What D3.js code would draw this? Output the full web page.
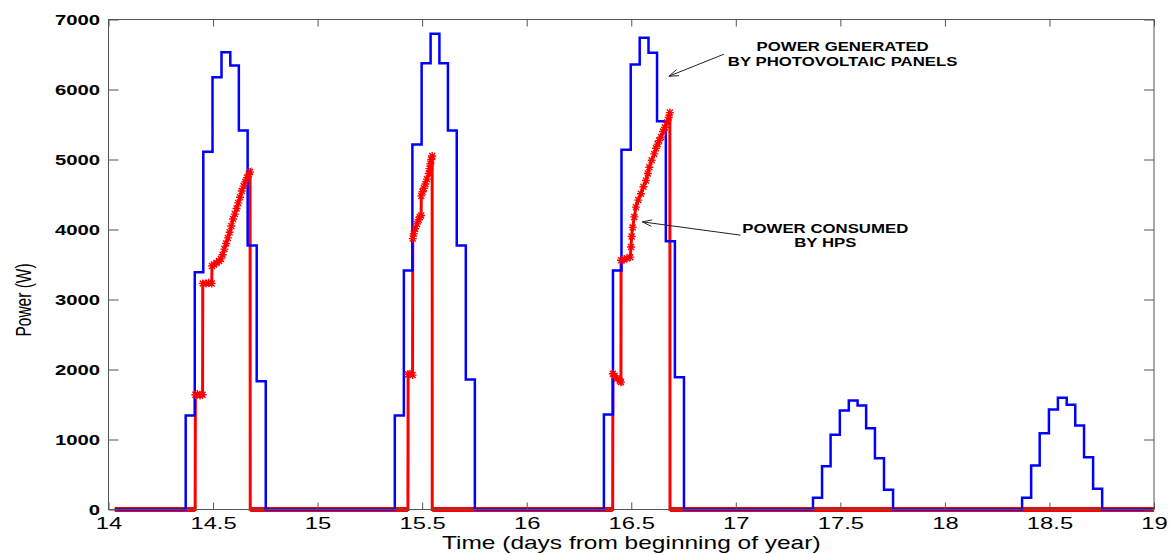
<!DOCTYPE html>
<html>
<head>
<meta charset="utf-8">
<script src="https://cdn.jsdelivr.net/npm/d3@7"></script>
<style>
  html, body { margin: 0; padding: 0; background: #fff; }
  svg { display: block; }
  text { font-family: "Liberation Sans", Arial, sans-serif; fill: #000; }
</style>
</head>
<body>
<svg id="chart" width="1173" height="554"></svg>
<script>
// ---------------- data ----------------
const xTicks = [14, 14.5, 15, 15.5, 16, 16.5, 17, 17.5, 18, 18.5, 19];
const yTicks = [0, 1000, 2000, 3000, 4000, 5000, 6000, 7000];
const seriesStart = 14.03, seriesEnd = 19;

// PV generation: hourly step edges (hour of day) and levels (W) per day
const pvDays = [14, 15, 16, 17, 18];
const stepHours = [8.86, 9.9, 10.88, 11.94, 12.97, 13.98, 14.96, 15.97, 17.01, 18.05];
const pv14 = [1343, 3390, 5110, 6176, 6533, 6343, 5414, 3771, 1833];
const pv15 = [1343, 3414, 5214, 6376, 6796, 6376, 5414, 3771, 1857];
const pv16 = [1357, 3414, 5138, 6357, 6738, 6524, 5547, 3833, 1890];
const pv17 = [167, 619, 1067, 1414, 1557, 1486, 1162, 733, 281];
const pv18 = [167, 629, 1090, 1429, 1596, 1495, 1200, 747, 296];
const pvLevels = [pv14, pv15, pv16, pv17, pv18];

// HPS consumption: [hour of day, W]
const hps14 = [[9.95,0],[9.97,1640],[10.2,1650],[10.5,1630],[10.8,1640],
  [10.82,3230],[11.2,3230],[11.5,3240],[11.85,3230],
  [11.88,3480],[12.1,3500],[12.4,3520],[12.7,3550],[12.9,3580],[13.1,3640],[13.3,3720],
  [13.5,3800],[13.7,3880],[13.9,3960],[14.1,4050],[14.3,4150],[14.5,4220],[14.7,4300],
  [14.9,4380],[15.1,4460],[15.3,4550],[15.5,4620],[15.7,4680],[15.9,4740],[16.1,4790],
  [16.25,4820],[16.27,0]];
const hps15 = [[10.37,0],[10.39,1930],[10.6,1940],[10.9,1920],
  [10.92,3870],[11.04,3940],[11.2,4010],[11.42,4080],[11.6,4140],[11.72,4180],[11.88,4200],
  [11.9,4480],[12.05,4540],[12.2,4590],[12.38,4650],[12.55,4720],[12.76,4800],[12.85,4870],
  [12.95,4940],[13.05,5000],[13.15,5050],[13.16,0]];
const hps16 = [[9.87,0],[9.89,1940],[10.1,1910],[10.4,1870],[10.7,1840],[10.82,1820],
  [10.83,3560],[11.2,3570],[11.5,3590],[11.89,3605],
  [11.97,3750],[12.05,3900],[12.16,4030],[12.35,4180],[12.54,4320],[12.8,4420],[13.11,4510],
  [13.4,4610],[13.69,4700],[13.9,4800],[14.07,4890],[14.35,4990],[14.64,5080],[14.85,5160],
  [15.03,5220],[15.2,5270],[15.41,5320],[15.65,5400],[15.87,5460],[16.1,5530],[16.3,5600],
  [16.43,5670],[16.45,0]];
const hpsDays = [14, 15, 16];
const hpsSeries = [hps14, hps15, hps16];

// annotation texts
const noteGen = ["POWER GENERATED", "BY PHOTOVOLTAIC PANELS"];
const noteCons = ["POWER CONSUMED", "BY HPS"];

// ---------------- layout ----------------
const W = 1173, H = 554;
const L = 108.5, R = 1154, T = 19.5, B = 509.5;
const SX = 1.4; // horizontal stretch of the original rendering

const svg = d3.select("#chart");
const x = d3.scaleLinear().domain([14, 19]).range([L, R]);
const y = d3.scaleLinear().domain([0, 7000]).range([B, T]);

// build series
const blue = [{t: seriesStart, v: 0}];
pvDays.forEach((d, i) => {
  pvLevels[i].forEach((lv, k) => blue.push({t: d + stepHours[k] / 24, v: lv}));
  blue.push({t: d + stepHours[stepHours.length - 1] / 24, v: 0});
});
blue.push({t: seriesEnd, v: 0});

const red = [{t: seriesStart, v: 0}];
hpsDays.forEach((d, i) => hpsSeries[i].forEach(p => red.push({t: d + p[0] / 24, v: p[1]})));
red.push({t: seriesEnd, v: 0});

// ---------------- plot ----------------
svg.append("rect").attr("x", 0).attr("y", 0).attr("width", W).attr("height", H).attr("fill", "#fff");

const lineRed = d3.line().x(d => x(d.t)).y(d => y(d.v));
const lineRedZero = d3.line().defined(d => d.v === 0).x(d => x(d.t)).y(d => y(d.v));
const lineBlue = d3.line().curve(d3.curveStepAfter).x(d => x(d.t)).y(d => y(d.v));

svg.append("path").datum(red).attr("d", lineRed)
  .attr("fill", "none").attr("stroke", "#ff0000").attr("stroke-width", 3);
svg.append("path").datum(red).attr("d", lineRedZero)
  .attr("fill", "none").attr("stroke", "#ff0000").attr("stroke-width", 5);
svg.append("path").datum(blue).attr("d", lineBlue)
  .attr("fill", "none").attr("stroke", "#0000ff").attr("stroke-width", 2.5);

// asterisk markers on HPS points
const star = "M-4,0H4M0,-4V4M-3,-3L3,3M-3,3L3,-3";
svg.append("g").selectAll("path").data(red.filter(d => d.v > 0)).join("path")
  .attr("transform", d => `translate(${x(d.t)},${y(d.v)})`)
  .attr("d", star).attr("fill", "none").attr("stroke", "#ff0000").attr("stroke-width", 1.4);

// ---------------- axes ----------------
const axisColor = "#555";
function styleAxis(g) {
  g.select(".domain").remove();
  g.selectAll(".tick line").attr("stroke", axisColor);
  g.attr("font-family", null).attr("font-size", null);
}
const gx = svg.append("g").attr("transform", `translate(0,${B})`)
  .call(d3.axisBottom(x).tickValues(xTicks).tickSize(-7).tickPadding(7).tickFormat(d3.format("")))
  .call(styleAxis);
gx.selectAll("text").attr("transform", `scale(${SX},1)`).style("font-size", "17px");

const gy = svg.append("g").attr("transform", `translate(${L},0)`)
  .call(d3.axisLeft(y).tickValues(yTicks).tickSize(-10).tickPadding(8).tickFormat(d3.format("")))
  .call(styleAxis);
gy.selectAll("text").attr("x", -8.5 / SX).attr("transform", `scale(${SX},1)`)
  .style("font-size", "14.5px").style("font-weight", "bold");

svg.append("g").attr("transform", `translate(0,${T})`)
  .call(d3.axisTop(x).tickValues(xTicks).tickSize(-7).tickFormat(""))
  .call(styleAxis);
svg.append("g").attr("transform", `translate(${R},0)`)
  .call(d3.axisRight(y).tickValues(yTicks).tickSize(-10).tickFormat(""))
  .call(styleAxis);

svg.append("rect").attr("x", L).attr("y", T).attr("width", R - L).attr("height", B - T)
  .attr("fill", "none").attr("stroke", axisColor).attr("stroke-width", 1);

// axis titles
svg.append("text").attr("transform", `translate(${(L + R) / 2},549) scale(${SX},1)`)
  .attr("text-anchor", "middle").style("font-size", "17.5px")
  .text("Time (days from beginning of year)");
svg.append("text").attr("transform", `translate(30.5,300) scale(${SX},1) rotate(-90)`)
  .attr("text-anchor", "middle").style("font-size", "15.5px")
  .text("Power (W)");

// ---------------- annotations ----------------
function note(lines, cx, baselines) {
  lines.forEach((s, i) => {
    svg.append("text").attr("transform", `translate(${x(cx)},${y(baselines[i])}) scale(${SX},1)`)
      .attr("text-anchor", "middle").style("font-size", "12px").style("font-weight", "bold")
      .text(s);
  });
}
note(noteGen, 17.511, [6551, 6333]);
note(noteCons, 17.428, [3947, 3747]);

function arrow(x0, y0, x1, y1) {
  const px0 = x(x0), py0 = y(y0), px1 = x(x1), py1 = y(y1);
  const a = Math.atan2(py1 - py0, px1 - px0), len = 10, half = 0.33;
  const g = svg.append("g").attr("stroke", "#222").attr("stroke-width", 1).attr("fill", "none");
  g.append("line").attr("x1", px0).attr("y1", py0).attr("x2", px1).attr("y2", py1);
  g.append("path").attr("d",
    `M${px1 - len * Math.cos(a - half)},${py1 - len * Math.sin(a - half)}L${px1},${py1}L${px1 - len * Math.cos(a + half)},${py1 - len * Math.sin(a + half)}`);
}
arrow(16.943, 6504, 16.68, 6190);
arrow(17.023, 3919, 16.553, 4109);
</script>
</body>
</html>
